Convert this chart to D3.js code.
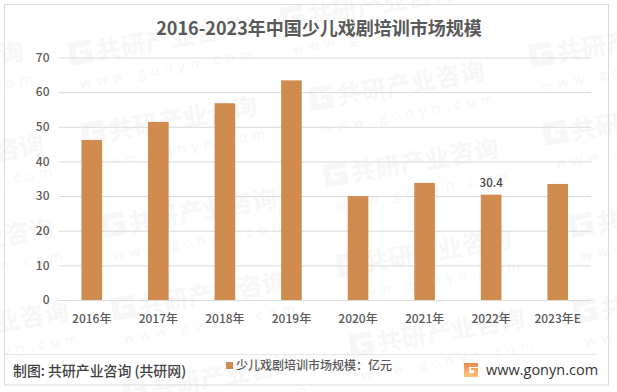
<!DOCTYPE html>
<html>
<head>
<meta charset="utf-8">
<script src="https://cdn.jsdelivr.net/npm/d3@7"></script>
<style>
  html, body { margin: 0; padding: 0; background: #fff; }
  svg { display: block; }
  text { font-family: "Noto Sans CJK SC", "Open Sans", sans-serif; }
</style>
</head>
<body>
<div id="chart"></div>
<script>
const categories = ["2016年", "2017年", "2018年", "2019年", "2020年", "2021年", "2022年", "2023年E"];
const values = [46.2, 51.4, 56.8, 63.4, 30, 33.8, 30.4, 33.5];
const labelled = ["2022年"]; // only this bar carries a label in the source
const yTicks = [0, 10, 20, 30, 40, 50, 60, 70];

const titleText = "2016-2023年中国少儿戏剧培训市场规模";
const legendText = "少儿戏剧培训市场规模：亿元";
const sourceText = "制图: 共研产业咨询 (共研网)";
const siteText = "www.gonyn.com";

// Watermark anchors (left end of each stamp)
const stamps = [
    [70, 60], [-150, 85], [-130, 178], [83, 140], [-120, 262], [103, 232], [-105, 345], [113, 315], [125, 397],
    [311, 105], [325, 182], [282, 25], [531, 62], [545, 140], [338, 272], [351, 352], [571, 232], [575, 318]
];

const width = 617;
const height = 392;
const margin = { top: 57.5, right: 26, bottom: 92, left: 58.5 };
const innerWidth = width - margin.left - margin.right;
const innerHeight = height - margin.top - margin.bottom;

const svg = d3.select("#chart")
    .append("svg")
    .attr("width", width)
    .attr("height", height);

svg.append("rect")
    .attr("width", width)
    .attr("height", height)
    .attr("fill", "#fff");

// Gradient for the small logo
const grad = svg.append("defs").append("linearGradient")
    .attr("id", "logoGrad")
    .attr("x1", 0).attr("y1", 0).attr("x2", 0).attr("y2", 1);
grad.append("stop").attr("offset", "0%").attr("stop-color", "#f08a4b");
grad.append("stop").attr("offset", "100%").attr("stop-color", "#fbc77c");

// Watermarks sit under the chart
const wm = svg.selectAll(".stamp")
    .data(stamps)
    .join("g")
    .attr("class", "stamp")
    .attr("transform", d => `translate(${d[0]},${d[1]}) rotate(-10)`);

wm.append("path")
    .attr("d", "M0,-17H23V-11H7V0H16V-4H11V-8H23V6H0Z")
    .attr("fill", "#f7f7f7");

wm.append("text")
    .attr("x", 27)
    .attr("y", 5)
    .attr("font-size", 25)
    .attr("font-weight", 700)
    .attr("fill", "#f7f7f7")
    .text("共研产业咨询");

wm.append("text")
    .attr("x", 6)
    .attr("y", 30)
    .attr("font-size", 14)
    .attr("letter-spacing", 5.5)
    .attr("fill", "#f6f6f6")
    .style("font-family", "'Open Sans', sans-serif")
    .text(siteText);

// Outer frame and footer rule
svg.append("rect")
    .attr("x", 4.5)
    .attr("y", 4.5)
    .attr("width", 604)
    .attr("height", 380.5)
    .attr("fill", "none")
    .attr("stroke", "#d9d9d9")
    .attr("stroke-width", 1);

svg.append("line")
    .attr("x1", 5)
    .attr("x2", 597)
    .attr("y1", 354.5)
    .attr("y2", 354.5)
    .attr("stroke", "#e6e6e6");

// Scales
const xScale = d3.scaleBand()
    .domain(categories)
    .range([0, innerWidth])
    .paddingInner(0.69)
    .paddingOuter(0.345);
const yScale = d3.scaleLinear().domain([0, 70]).range([innerHeight, 0]);

const plot = svg.append("g")
    .attr("transform", `translate(${margin.left},${margin.top})`);

// Axes, the y tick lines double as gridlines
const yAxis = d3.axisLeft(yScale)
    .tickValues(yTicks)
    .tickSize(-innerWidth)
    .tickPadding(9);

const xAxis = d3.axisBottom(xScale)
    .tickSize(0)
    .tickPadding(14);

const yG = plot.append("g").attr("class", "y-axis").call(yAxis);
yG.select(".domain").remove();
yG.selectAll(".tick line").attr("stroke", "#d9d9d9");
yG.selectAll(".tick text")
    .style("font-size", "12px")
    .style("font-weight", "500")
    .attr("fill", "#595959");

const xG = plot.append("g")
    .attr("class", "x-axis")
    .attr("transform", `translate(0,${innerHeight})`)
    .call(xAxis);
xG.select(".domain").remove();
xG.selectAll(".tick text")
    .style("font-size", "12px")
    .style("font-weight", "500")
    .attr("fill", "#595959");

// Bars
plot.selectAll(".bar")
    .data(categories)
    .join("rect")
    .attr("class", "bar")
    .attr("x", d => xScale(d))
    .attr("width", xScale.bandwidth())
    .attr("y", (d, i) => yScale(values[i]))
    .attr("height", (d, i) => innerHeight - yScale(values[i]))
    .attr("fill", "#d08c4e");

// Data label
plot.selectAll(".value")
    .data(categories.filter(d => labelled.includes(d)))
    .join("text")
    .attr("class", "value")
    .attr("x", d => xScale(d) + xScale.bandwidth() / 2)
    .attr("y", d => yScale(values[categories.indexOf(d)]) - 8)
    .attr("text-anchor", "middle")
    .attr("font-size", 11.5)
    .attr("font-weight", 500)
    .attr("fill", "#404040")
    .text(d => values[categories.indexOf(d)]);

// Title
svg.append("text")
    .attr("x", 319)
    .attr("y", 35)
    .attr("text-anchor", "middle")
    .attr("font-size", 18)
    .attr("font-weight", 700)
    .attr("fill", "#595959")
    .text(titleText);

// Legend
svg.append("rect")
    .attr("x", 226)
    .attr("y", 362)
    .attr("width", 7)
    .attr("height", 7)
    .attr("fill", "#d08c4e");

svg.append("text")
    .attr("x", 236)
    .attr("y", 370)
    .attr("font-size", 12)
    .attr("font-weight", 500)
    .attr("fill", "#595959")
    .text(legendText);

// Source line
svg.append("text")
    .attr("x", 13)
    .attr("y", 376)
    .attr("font-size", 13.9)
    .attr("font-weight", 500)
    .attr("fill", "#404040")
    .text(sourceText);

// Logo and site address
svg.append("path")
    .attr("transform", "translate(464,363)")
    .attr("d", "M0,0H14V4H5V10H10V7H7V5H14V14H0Z")
    .attr("fill", "url(#logoGrad)");

svg.append("text")
    .attr("x", 486)
    .attr("y", 375)
    .attr("font-size", 14.5)
    .attr("fill", "#333")
    .style("font-family", "'Open Sans', sans-serif")
    .text(siteText);
</script>
</body>
</html>
